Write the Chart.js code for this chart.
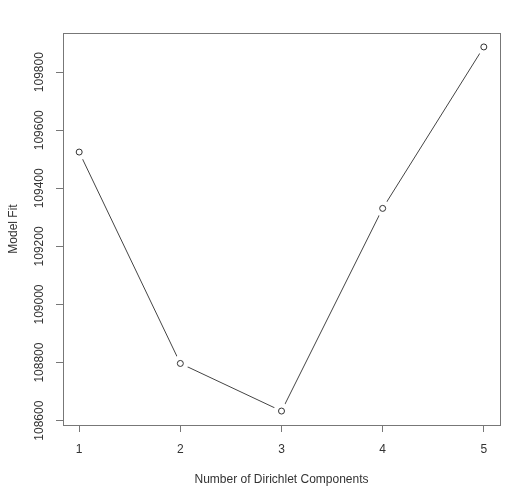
<!DOCTYPE html>
<html>
<head>
<meta charset="utf-8">
<script src="https://cdn.jsdelivr.net/npm/chart.js@4/dist/chart.umd.min.js"></script>
<style>
  html, body { margin: 0; padding: 0; background: #fff; }
  #wrap { width: 530px; height: 500px; }
</style>
</head>
<body>
<div id="wrap"><canvas id="fitChart" width="530" height="500"></canvas></div>
<script>
// values
const components = [1, 2, 3, 4, 5];
const modelFit = [109525, 108797, 108633, 109331, 109887];
const xTicks = [1, 2, 3, 4, 5];
const yTicks = [108600, 108800, 109000, 109200, 109400, 109600, 109800];
const xRange = [0.84, 5.16];
const yRange = [108585, 109935];

const ink = '#333';
const frame = '#777';

const points = components.map((c, i) => ({ x: c, y: modelFit[i] }));

// R-style box around the plot region
const boxPlugin = {
    id: 'box',
    afterDraw(chart) {
        const a = chart.chartArea;
        const ctx = chart.ctx;
        ctx.save();
        ctx.strokeStyle = frame;
        ctx.lineWidth = 1;
        ctx.strokeRect(Math.round(a.left) + 0.5, Math.round(a.top) + 0.5,
            Math.round(a.right - a.left), Math.round(a.bottom - a.top));
        ctx.restore();
    }
};

document.addEventListener('DOMContentLoaded', function() {
    const ctx = document.getElementById('fitChart').getContext('2d');
    new Chart(ctx, {
        type: 'scatter',
        data: {
            datasets: [
                {   // connecting line
                    data: points,
                    showLine: true,
                    borderColor: '#444',
                    borderWidth: 1,
                    pointRadius: 0,
                    order: 3
                },
                {   // white gap round each point, like type = "b"
                    data: points,
                    showLine: false,
                    pointRadius: 8,
                    pointBackgroundColor: '#fff',
                    pointBorderColor: '#fff',
                    pointBorderWidth: 0,
                    order: 2
                },
                {   // open circles
                    data: points,
                    showLine: false,
                    pointRadius: 3,
                    pointBackgroundColor: '#fff',
                    pointBorderColor: ink,
                    pointBorderWidth: 1,
                    order: 1
                }
            ]
        },
        options: {
            responsive: false,
            animation: false,
            events: [],
            layout: { padding: { left: 0, top: 33, right: 30, bottom: 0 } },
            plugins: {
                legend: { display: false },
                tooltip: { enabled: false }
            },
            scales: {
                x: {
                    type: 'linear',
                    position: 'bottom',
                    min: xRange[0],
                    max: xRange[1],
                    afterBuildTicks: (s) => { s.ticks = xTicks.map(v => ({ value: v })); },
                    afterFit: (s) => { s.height = 75; },
                    grid: { drawOnChartArea: false, drawTicks: true, tickLength: 7, color: frame },
                    border: { display: false },
                    ticks: {
                        color: ink,
                        padding: 10,
                        maxRotation: 0,
                        font: { family: 'Liberation Sans', size: 12 }
                    },
                    title: {
                        display: true,
                        text: 'Number of Dirichlet Components',
                        color: ink,
                        padding: { top: 0, bottom: 13 },
                        font: { family: 'Liberation Sans', size: 12 }
                    }
                },
                y: {
                    type: 'linear',
                    position: 'left',
                    min: yRange[0],
                    max: yRange[1],
                    afterBuildTicks: (s) => { s.ticks = yTicks.map(v => ({ value: v })); },
                    afterFit: (s) => { s.width = 63; },
                    grid: { drawOnChartArea: false, drawTicks: true, tickLength: 7, color: frame },
                    border: { display: false },
                    ticks: {
                        color: ink,
                        padding: -4,
                        minRotation: 90,
                        maxRotation: 90,
                        crossAlign: 'center',
                        callback: (v) => String(v),
                        font: { family: 'Liberation Sans', size: 12 }
                    },
                    title: {
                        display: true,
                        text: 'Model Fit',
                        color: ink,
                        padding: { top: 6, bottom: 0 },
                        font: { family: 'Liberation Sans', size: 12 }
                    }
                }
            }
        },
        plugins: [boxPlugin]
    });
});
</script>
</body>
</html>
